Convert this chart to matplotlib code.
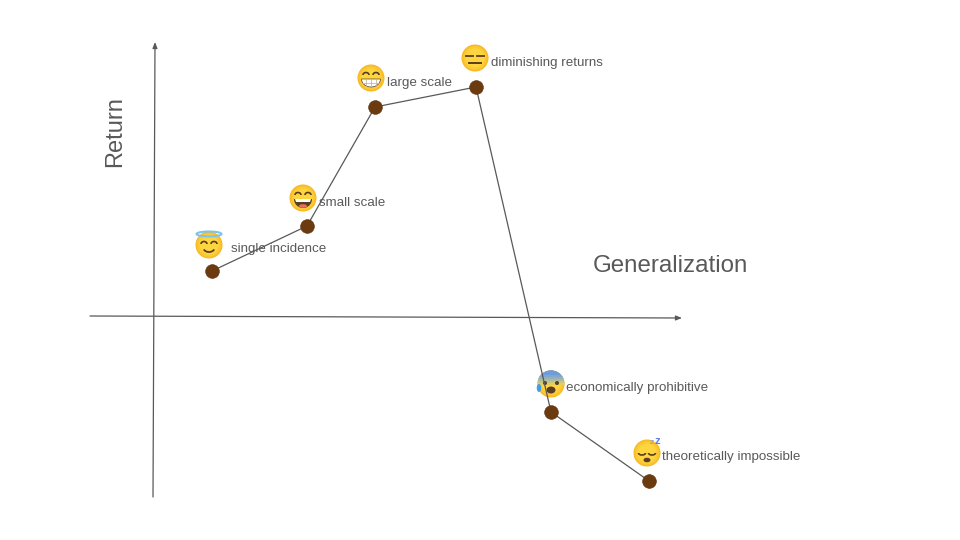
import numpy as np
import matplotlib
matplotlib.use('Agg')
import matplotlib.pyplot as plt
from matplotlib.patches import Circle, Ellipse, Arc, Polygon

# all values, in picture pixels
point_x = [212, 307, 375, 476, 551, 649]
point_y = [271, 226, 107, 87, 412, 481]

labels = ['single incidence', 'small scale', 'large scale', 'diminishing returns',
          'economically prohibitive', 'theoretically impossible']
label_x = [231, 319, 387, 491, 566, 662]
label_y = [249, 203, 83, 63, 388, 457]

emoji_x = [209, 303, 371, 475, 551, 647]
emoji_y = [245, 198, 78, 58, 384, 453]

plt.rcParams['font.family'] = ['Liberation Sans', 'DejaVu Sans']
text_col = '#595959'
line_col = '#595959'
dark = '#5a3d22'

fig = plt.figure(figsize=(9.6, 5.4), dpi=100)
ax = fig.add_axes([0, 0, 1, 1])
ax.set_xlim(0, 960)
ax.set_ylim(540, 0)
ax.axis('off')


def face(x, y):
    # yellow ball, darker towards the edge
    for r, c in zip([13.5, 12.8, 11.5, 9.5], ['#f6b51e', '#fac02b', '#fcca35', '#fdd53f']):
        ax.add_patch(Circle((x, y), r, fc=c, ec='none', zorder=4))


def eye_arc(x, y, w=6, h=5):
    ax.add_patch(Arc((x, y), w, h, theta1=180, theta2=360, color=dark, lw=1.2, zorder=5))


def halo(i):
    x, y = emoji_x[i], emoji_y[i]
    face(x, y)
    ax.add_patch(Ellipse((x, y - 11), 25, 5, fc='none', ec='#7cc4ea', lw=1.5, zorder=5))
    eye_arc(x - 5, y - 1)
    eye_arc(x + 5, y - 1)
    ax.add_patch(Arc((x, y + 2), 12, 10, theta1=25, theta2=155, color=dark, lw=1.3, zorder=5))


def smile(i):
    x, y = emoji_x[i], emoji_y[i]
    face(x, y)
    eye_arc(x - 5, y - 3)
    eye_arc(x + 5, y - 3)
    t = np.linspace(0, np.pi, 20)
    mouth = np.c_[x + 9 * np.cos(t), y + 1 + 9 * np.sin(t)]
    ax.add_patch(Polygon(mouth, fc=dark, ec='none', zorder=5))
    ax.add_patch(Polygon([(x - 8, y + 1), (x + 8, y + 1), (x + 7, y + 4), (x - 7, y + 4)], fc='white', ec='none', zorder=6))
    ax.add_patch(Ellipse((x, y + 8), 8, 3.5, fc='#e8705a', ec='none', zorder=6))


def grin(i):
    x, y = emoji_x[i], emoji_y[i]
    face(x, y)
    eye_arc(x - 5, y - 3)
    eye_arc(x + 5, y - 3)
    t = np.linspace(0, np.pi, 20)
    mouth = np.c_[x + 9.5 * np.cos(t), y + 1 + 8 * np.sin(t)]
    ax.add_patch(Polygon(mouth, fc='white', ec=dark, lw=0.5, zorder=5))
    ax.plot([x - 9, x + 9], [y + 4.5, y + 4.5], color='#c4b8a0', lw=0.6, zorder=6)
    for dx in [-5, 0, 5]:
        ax.plot([x + dx, x + dx], [y + 1, y + 8], color='#c4b8a0', lw=0.6, zorder=6)


def flat(i):
    x, y = emoji_x[i], emoji_y[i]
    face(x, y)
    ax.plot([x - 9, x - 2], [y - 2, y - 2], color=dark, lw=1.3, zorder=5)
    ax.plot([x + 2, x + 9], [y - 2, y - 2], color=dark, lw=1.3, zorder=5)
    ax.plot([x - 6, x + 6], [y + 5, y + 5], color=dark, lw=1.4, zorder=5)


def fear(i):
    x, y = emoji_x[i], emoji_y[i]
    face(x, y)
    # blue forehead fading into the yellow, made of stacked circle segments
    r = 13.5
    for lvl, c in zip([1, -1, -3, -5, -7, -9],
                      ['#e6cc58', '#ccc478', '#aebb98', '#96b0b4', '#82a6cc', '#6f9bd8']):
        t = np.linspace(0, 2 * np.pi, 60)
        px, py = r * np.cos(t), r * np.sin(t)
        py = np.minimum(py, lvl)
        ax.add_patch(Polygon(np.c_[x + px, y + py], fc=c, ec='none', zorder=5))
    ax.add_patch(Circle((x - 6, y - 1), 2, fc=dark, ec='none', zorder=6))
    ax.add_patch(Circle((x + 6, y - 1), 2, fc=dark, ec='none', zorder=6))
    ax.add_patch(Ellipse((x, y + 6), 9, 7, fc=dark, ec='none', zorder=6))
    ax.add_patch(Ellipse((x - 12, y + 4), 4.5, 8, fc='#3f9fe0', ec='none', zorder=6))


def sleep(i):
    x, y = emoji_x[i], emoji_y[i]
    face(x, y)
    ax.add_patch(Arc((x - 5, y), 7, 4, theta1=0, theta2=180, color=dark, lw=1.2, zorder=5))
    ax.add_patch(Arc((x + 5, y), 7, 4, theta1=0, theta2=180, color=dark, lw=1.2, zorder=5))
    ax.add_patch(Ellipse((x, y + 7), 7, 4.5, fc=dark, ec='none', zorder=5))
    ax.text(x + 10, y - 12, 'z', color='#5c7cf0', fontsize=8, fontweight='bold', ha='center', va='center', zorder=6)
    ax.text(x + 5, y - 10, 'z', color='#8ea4f0', fontsize=6, fontweight='bold', ha='center', va='center', zorder=6)


# axes
ax.annotate('', xy=(155, 42), xytext=(153, 497),
            arrowprops=dict(arrowstyle='-|>,head_length=0.35,head_width=0.14', color=line_col, lw=0.9, shrinkA=0, shrinkB=0))
ax.annotate('', xy=(682, 318), xytext=(90, 316),
            arrowprops=dict(arrowstyle='-|>,head_length=0.35,head_width=0.14', color=line_col, lw=0.9, shrinkA=0, shrinkB=0))

for x, y, s in zip(label_x, label_y, labels):
    ax.text(x, y, s, color=text_col, fontsize=9.6, ha='left', va='center', zorder=2)

# the line sits on top of the emoji and labels, the dots on top of the line
ax.plot(point_x, point_y, color=line_col, lw=0.9, zorder=7)
ax.scatter(point_x, point_y, s=98, color='#6b3a0f', edgecolors='#5a300c', linewidths=0.4, zorder=8)

for i, f in enumerate([halo, smile, grin, flat, fear, sleep]):
    f(i)

ax.text(593, 266, 'Generalization', color=text_col, fontsize=17.4, ha='left', va='center')
ax.text(115, 132, 'Return', color=text_col, fontsize=17, rotation=90, ha='center', va='center')

fig.savefig('out.png', dpi=100)
